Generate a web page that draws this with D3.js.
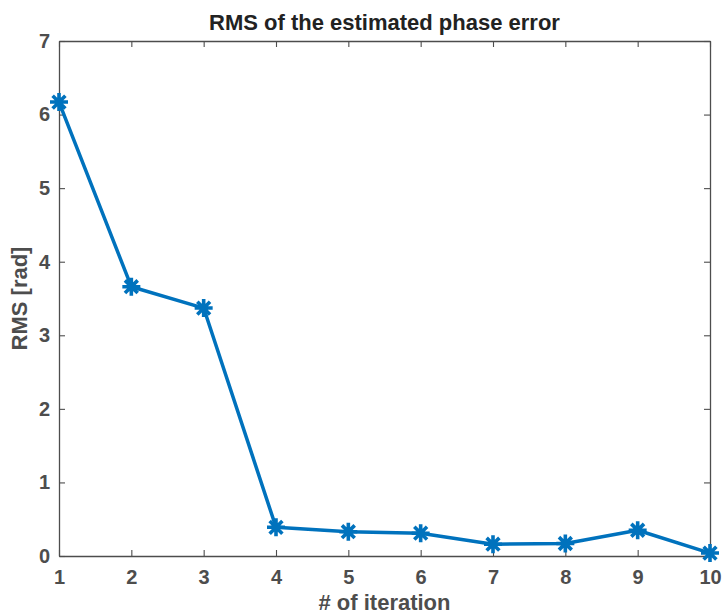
<!DOCTYPE html>
<html>
<head>
<meta charset="utf-8">
<script src="https://cdn.jsdelivr.net/npm/d3@7"></script>
<style>
  body { margin: 0; background: #fff; }
  text { font-family: "Liberation Sans", Arial, Helvetica, sans-serif; }
</style>
</head>
<body>
<div id="wrapper"></div>
<script>
// data
const iterations = [1, 2, 3, 4, 5, 6, 7, 8, 9, 10]
const rmsValues = [6.17, 3.66, 3.37, 0.39, 0.33, 0.31, 0.16, 0.17, 0.35, 0.04]
const xTicks = [1, 2, 3, 4, 5, 6, 7, 8, 9, 10]
const yTicks = [0, 1, 2, 3, 4, 5, 6, 7]

const width = 723
const height = 615
const margin = {top: 41, right: 13, bottom: 59, left: 59}
const innerW = width - margin.left - margin.right
const innerH = height - margin.top - margin.bottom

const axisColor = "#4d4d4d"
const lineColor = "#0072BD"

const svg = d3.select("#wrapper")
  .append("svg")
    .attr("width", width)
    .attr("height", height)

const g = svg.append("g")
  .attr("transform", "translate(" + margin.left + "," + margin.top + ")")

const x = d3.scaleLinear().domain([1, 10]).range([0, innerW])
const y = d3.scaleLinear().domain([0, 7]).range([innerH, 0])

// axes: ticks inward, box on all four sides
const tickLen = 6
function styleAxis(sel, showText) {
  sel.select(".domain").attr("stroke", axisColor).attr("stroke-width", 1.3)
  sel.selectAll(".tick line").attr("stroke", axisColor).attr("stroke-width", 1.1)
  sel.selectAll(".tick text")
    .attr("fill", axisColor)
    .style("font-size", "20px")
    .style("font-weight", "bold")
  if (!showText) sel.selectAll(".tick text").remove()
}

g.append("g")
  .attr("transform", "translate(0," + innerH + ")")
  .call(d3.axisBottom(x).tickValues(xTicks).tickFormat(d3.format("d")).tickSize(-tickLen).tickSizeOuter(0).tickPadding(14))
  .call(s => styleAxis(s, true))

g.append("g")
  .call(d3.axisTop(x).tickValues(xTicks).tickSize(-tickLen).tickSizeOuter(0))
  .call(s => styleAxis(s, false))

g.append("g")
  .call(d3.axisLeft(y).tickValues(yTicks).tickFormat(d3.format("d")).tickSize(-tickLen).tickSizeOuter(0).tickPadding(9))
  .call(s => styleAxis(s, true))

g.append("g")
  .attr("transform", "translate(" + innerW + ",0)")
  .call(d3.axisRight(y).tickValues(yTicks).tickSize(-tickLen).tickSizeOuter(0))
  .call(s => styleAxis(s, false))

// line
const points = iterations.map((d, i) => ({it: d, rms: rmsValues[i]}))

g.append("path")
  .datum(points)
  .attr("fill", "none")
  .attr("stroke", lineColor)
  .attr("stroke-width", 3.5)
  .attr("stroke-linejoin", "round")
  .attr("d", d3.line().x(d => x(d.it)).y(d => y(d.rms)))

// asterisk markers
const r = 9
const star = d3.range(4).map(k => {
  const a = k * Math.PI / 4
  const dx = r * Math.cos(a), dy = r * Math.sin(a)
  return "M" + (-dx) + "," + (-dy) + "L" + dx + "," + dy
}).join("")

g.selectAll(".marker")
  .data(points)
  .enter().append("path")
    .attr("class", "marker")
    .attr("transform", d => "translate(" + x(d.it) + "," + y(d.rms) + ")")
    .attr("d", star)
    .attr("stroke", lineColor)
    .attr("stroke-width", 3.6)
    .attr("fill", "none")

// title and labels
svg.append("text")
  .attr("x", margin.left + innerW / 2)
  .attr("y", 30)
  .attr("text-anchor", "middle")
  .attr("fill", "#222")
  .style("font-size", "22px")
  .style("font-weight", "bold")
  .text("RMS of the estimated phase error")

svg.append("text")
  .attr("x", margin.left + innerW / 2)
  .attr("y", 610)
  .attr("text-anchor", "middle")
  .attr("fill", axisColor)
  .style("font-size", "22px")
  .style("font-weight", "bold")
  .text("# of iteration")

svg.append("text")
  .attr("transform", "translate(27," + (margin.top + innerH / 2) + ") rotate(-90)")
  .attr("text-anchor", "middle")
  .attr("fill", axisColor)
  .style("font-size", "22px")
  .style("font-weight", "bold")
  .text("RMS [rad]")
</script>
</body>
</html>
